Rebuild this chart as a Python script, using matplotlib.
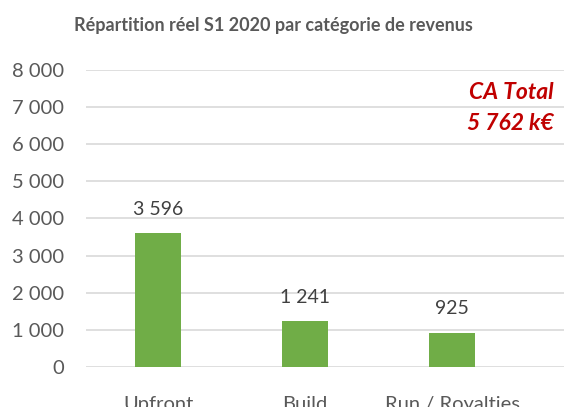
import matplotlib.pyplot as plt
from matplotlib.ticker import FuncFormatter

categories = ["Upfront", "Build", "Run / Royalties"]
values = [3596, 1241, 925]
total_label = "CA Total\n5 762 k€"

plt.rcParams['font.family'] = ['Lato', 'DejaVu Sans']

fig = plt.figure(figsize=(5.64, 4.07), dpi=100)
ax = fig.add_axes([0.1525, 0.0983, 0.8475, 0.7297])

x = range(len(categories))
bars = ax.bar(x, values, width=0.31, color='#70AD47', zorder=3)

for xi, v in zip(x, values):
    ax.annotate(f"{v:,}".replace(",", " "), (xi, v), xytext=(0, 11),
                textcoords='offset points', ha='center', va='bottom',
                fontsize=14, color='#404040')

ax.set_ylim(0, 8000)
ax.set_xlim(-0.49, 2.76)
ax.set_yticks(range(0, 8001, 1000))
ax.yaxis.set_major_formatter(FuncFormatter(lambda v, p: f"{int(v):,}".replace(",", " ")))
ax.set_xticks(list(x))
ax.set_xticklabels(categories)
ax.tick_params(axis='y', length=0, pad=16, labelsize=14.5, labelcolor='#595959')
ax.tick_params(axis='x', length=0, pad=21, labelsize=14.5, labelcolor='#595959')
ax.grid(axis='y', color='#D9D9D9', linewidth=1.2, zorder=0)
for s in ax.spines.values():
    s.set_visible(False)

fig.text(0.484, 0.938, "Répartition réel S1 2020 par catégorie de revenus",
         ha='center', va='center', fontsize=13, fontweight='bold', color='#595959')
fig.text(0.981, 0.735, total_label, ha='right', va='center', fontsize=16.5,
         fontweight='bold', fontstyle='italic', color='#C00000', linespacing=1.55)

fig.savefig("out.png", dpi=100)
